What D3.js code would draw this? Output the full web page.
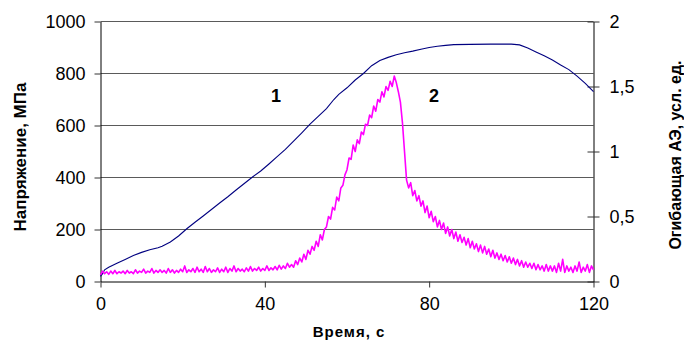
<!DOCTYPE html>
<html>
<head>
<meta charset="utf-8">
<script src="https://cdn.jsdelivr.net/npm/d3@7"></script>
<style>
  body { margin: 0; background: #fff; }
  svg { display: block; font-family: Arial, "Liberation Sans", sans-serif; }
</style>
</head>
<body>
<div id="chart"></div>
<script>
// curve 1: stress, MPa
const stressTime = [0, 0.5, 1, 2, 4, 6, 8, 10, 12, 14, 15, 17, 19, 21, 23, 25, 27, 29, 31, 33, 35, 37, 39, 41, 43, 45,
  47, 49, 51, 53, 55, 56.8, 58, 60, 62, 64, 66, 68, 70, 72, 74, 76, 78, 80, 82, 84, 86, 90, 95, 100, 102, 104, 106,
  108, 110, 112, 114, 116, 118, 120];
const stressValue = [20, 30, 45, 55, 70, 85, 100, 112, 122, 130, 136, 152, 175, 203, 228, 252, 277, 302, 326, 352, 377,
  402, 425, 452, 480, 508, 540, 572, 605, 635, 665, 700, 720, 745, 775, 800, 830, 850, 862, 872, 880, 886, 893, 900,
  905, 908, 911, 912, 913, 913, 910, 898, 883, 868, 852, 833, 815, 790, 762, 730];

// curve 2: AE envelope, arb. units, one value every 0.5 s from 0 to 120 s
const aeStep = 0.5;
const aeValue = [
  0.05, 0.08, 0.06, 0.075, 0.055, 0.08, 0.06, 0.085, 0.06, 0.075,
  0.065, 0.08, 0.06, 0.085, 0.065, 0.075, 0.06, 0.09, 0.065, 0.08,
  0.07, 0.095, 0.065, 0.08, 0.07, 0.1, 0.065, 0.085, 0.07, 0.09,
  0.07, 0.085, 0.065, 0.1, 0.07, 0.09, 0.065, 0.085, 0.07, 0.095,
  0.075, 0.12, 0.07, 0.09, 0.075, 0.1, 0.07, 0.11, 0.075, 0.095,
  0.07, 0.115, 0.075, 0.1, 0.07, 0.09, 0.075, 0.105, 0.07, 0.095,
  0.075, 0.11, 0.07, 0.1, 0.08, 0.12, 0.075, 0.1, 0.08, 0.095,
  0.075, 0.105, 0.08, 0.115, 0.08, 0.1, 0.085, 0.11, 0.08, 0.1,
  0.085, 0.12, 0.085, 0.105, 0.09, 0.115, 0.09, 0.125, 0.095, 0.12,
  0.1, 0.14, 0.11, 0.13, 0.11, 0.16, 0.13, 0.18, 0.15, 0.21,
  0.17, 0.24, 0.21, 0.27, 0.24, 0.31, 0.27, 0.36, 0.32, 0.4,
  0.42, 0.5, 0.48, 0.57, 0.55, 0.65, 0.62, 0.72, 0.74, 0.82,
  0.86, 0.95, 0.94, 1.05, 1.0, 1.09, 1.06, 1.15, 1.13, 1.21,
  1.2, 1.28, 1.26, 1.35, 1.31, 1.4, 1.38, 1.46, 1.42, 1.5,
  1.47, 1.54, 1.5, 1.58, 1.53, 1.46, 1.38, 1.22, 1.0, 0.78,
  0.72, 0.76, 0.66, 0.7, 0.62, 0.66, 0.58, 0.62, 0.53, 0.58,
  0.49, 0.54, 0.46, 0.5, 0.42, 0.47, 0.4, 0.45, 0.37, 0.42,
  0.35, 0.4, 0.33, 0.38, 0.31, 0.36, 0.3, 0.34, 0.28, 0.33,
  0.26, 0.31, 0.25, 0.29, 0.23, 0.28, 0.22, 0.27, 0.21, 0.25,
  0.19, 0.24, 0.18, 0.22, 0.17, 0.21, 0.16, 0.2, 0.15, 0.19,
  0.14, 0.18, 0.13, 0.17, 0.12, 0.16, 0.11, 0.15, 0.11, 0.14,
  0.1, 0.14, 0.09, 0.13, 0.09, 0.12, 0.08, 0.13, 0.08, 0.12,
  0.08, 0.12, 0.07, 0.14, 0.08, 0.17, 0.07, 0.12, 0.08, 0.11,
  0.07, 0.12, 0.08, 0.15, 0.07, 0.11, 0.08, 0.13, 0.07, 0.12,
  0.09];

const xTicks = [0, 40, 80, 120];
const yTicks = [0, 200, 400, 600, 800, 1000];
const y2Ticks = [0, 0.5, 1, 1.5, 2];
const y2Labels = ["0", "0,5", "1", "1,5", "2"];

const width = 684, height = 341;
const plotLeft = 100.5, plotRight = 593.5, plotTop = 21.5, plotBottom = 281.5;

const svg = d3.select("#chart").append("svg")
  .attr("width", width)
  .attr("height", height);

const x = d3.scaleLinear().domain([0, 120]).range([plotLeft, plotRight]);
const y = d3.scaleLinear().domain([0, 1000]).range([plotBottom, plotTop]);
const y2 = d3.scaleLinear().domain([0, 2]).range([plotBottom, plotTop]);

// gridlines
svg.append("g")
  .selectAll("line")
  .data(yTicks.slice(1))
  .join("line")
  .attr("x1", plotLeft).attr("x2", plotRight)
  .attr("y1", d => y(d)).attr("y2", d => y(d))
  .attr("stroke", "#5a5a5a")
  .attr("stroke-width", 1);

// axes
const axLeft = svg.append("g")
  .attr("transform", "translate(" + plotLeft + ",0)")
  .call(d3.axisLeft(y).tickValues(yTicks).tickFormat(d3.format("d"))
    .tickSize(6).tickPadding(9).tickSizeOuter(0));
const axBottom = svg.append("g")
  .attr("transform", "translate(0," + plotBottom + ")")
  .call(d3.axisBottom(x).tickValues(xTicks).tickSize(6).tickPadding(10).tickSizeOuter(0));
const axRight = svg.append("g")
  .attr("transform", "translate(" + plotRight + ",0)")
  .call(d3.axisRight(y2).tickValues(y2Ticks).tickFormat((d, i) => y2Labels[i])
    .tickSize(6).tickPadding(10).tickSizeOuter(0));
axRight.selectAll(".tick line").attr("x1", -6);

[axLeft, axBottom, axRight].forEach(a => {
  a.selectAll(".domain").attr("stroke", "#000");
  a.selectAll(".tick line").attr("stroke", "#333");
  a.selectAll(".tick text")
    .attr("fill", "#000")
    .style("font-size", "18px")
    .style("font-family", "Arial, 'Liberation Sans', sans-serif");
});

// curve 1
const stress = stressTime.map((t, i) => ({t: t, v: stressValue[i]}));
svg.append("path")
  .datum(stress)
  .attr("fill", "none")
  .attr("stroke", "#000080")
  .attr("stroke-width", 1.1)
  .attr("d", d3.line().x(d => x(d.t)).y(d => y(d.v)));

// curve 2
svg.append("path")
  .datum(aeValue)
  .attr("fill", "none")
  .attr("stroke", "#ff00ff")
  .attr("stroke-width", 1.6)
  .attr("stroke-linejoin", "round")
  .attr("d", d3.line().x((d, i) => x(i * aeStep)).y(d => y2(d)));

// curve labels
svg.append("text").attr("x", 276).attr("y", 102).attr("text-anchor", "middle")
  .style("font-size", "18px").style("font-weight", "bold").text("1");
svg.append("text").attr("x", 434).attr("y", 102).attr("text-anchor", "middle")
  .style("font-size", "18px").style("font-weight", "bold").text("2");

// axis titles
svg.append("text")
  .attr("transform", "translate(26,157) rotate(-90)")
  .attr("text-anchor", "middle")
  .style("font-size", "17px").style("font-weight", "bold")
  .text("Напряжение, МПа");
svg.append("text")
  .attr("transform", "translate(681,155) rotate(-90)")
  .attr("text-anchor", "middle")
  .style("font-size", "16px").style("font-weight", "bold")
  .text("Огибающая АЭ, усл. ед.");
svg.append("text")
  .attr("x", 349).attr("y", 337)
  .attr("text-anchor", "middle")
  .style("font-size", "15px").style("font-weight", "bold")
  .style("letter-spacing", "1px")
  .text("Время, с");
</script>
</body>
</html>
